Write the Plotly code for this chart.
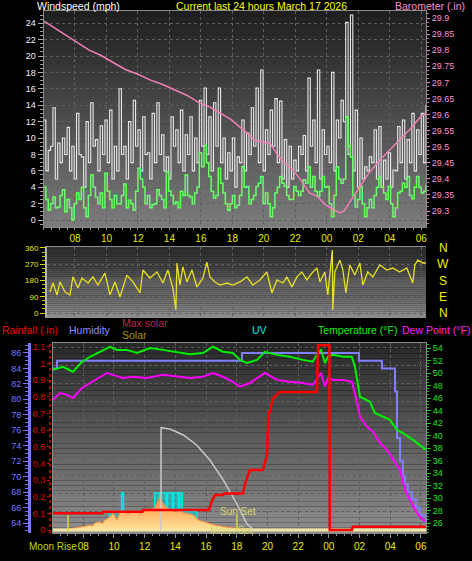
import plotly.graph_objects as go

W, H = 472, 561

# ---------------- data ----------------
hour_tickvals = [2, 4, 6, 8, 10, 12, 14, 16, 18, 20, 22, 24]
hour_ticktext = ['08', '10', '12', '14', '16', '18', '20', '22', '00', '02', '04', '06']
wind_sample_hours = 0.15

gust_peaks = [12.2, 8.5, 13.7, 9.4, 10, 11.3, 9, 13, 7.7, 12, 14.3, 9.8, 11.5, 12.2, 13.4, 9, 16, 9, 12, 14.6,
              11, 12.6, 8.2, 13, 14.3, 10.4, 7.7, 12.6, 11, 13.4, 10.4, 12.6, 10, 14.6, 16.1, 12.6, 14.3, 16.1, 10, 8.2,
              10, 7.7, 12.2, 10.6, 13.7, 16.1, 18.3, 11, 13.4, 14.8, 14.5, 9.8, 9, 7.3, 9, 10.3, 17.3, 12.2, 18.3, 11,
              9, 18, 12.2, 14.6, 24.1, 25, 13.4, 10, 6.5, 7.7, 11, 11.4, 7.3, 8.2, 6.1, 11.4, 12.2, 9.8, 13, 11,
              13, 14]
gust_lulls = [6, 9, 5, 7, 8, 6, 5, 8, 4, 7, 9, 6, 8, 7, 5, 6, 8, 5, 7, 9,
              6, 8, 5, 7, 8, 6, 5, 9, 7, 6, 8, 6, 7, 9, 8, 6, 9, 7, 5, 6,
              4, 7, 6, 8, 9, 7, 6, 8, 9, 7, 5, 4, 5, 6, 8, 6, 9, 7, 5, 8,
              7, 6, 10, 12, 8, 6, 4, 5, 6, 7, 5, 4, 5, 4, 6, 7, 5, 7, 6, 8, 7]
avg_peaks = [4.0, 1.2, 2.8, 1.6, 3.7, 2.5, 0, 3.3, 4.0, 0.4, 5.5, 2.8, 3.3, 5.7, 2.5, 3.0, 2.0, 4.4, 2.4, 1.2,
             6.3, 4.0, 3.0, 1.9, 3.7, 2.5, 5.9, 3.0, 2.2, 3.5, 5.5, 2.8, 3.3, 8.2, 9.1, 5.3, 2.7, 6.3, 3.3, 1.2,
             3.0, 1.8, 6.5, 4.1, 2.5, 4.1, 5.3, 3.3, 0.4, 3.3, 5.3, 4.1, 2.5, 4.1, 3.0, 4.9, 6.5, 5.3, 2.9, 5.3,
             4.1, 0.4, 6.5, 4.5, 12.6, 7.7, 1.6, 4.1, 0.4, 2.5, 3.0, 5.3, 3.3, 4.1, 0.4, 3.3, 4.5, 5.3, 2.6, 5.3,
             3.3, 4.3]
avg_lulls = [2.5, 2, 1.5, 3, 1, 1.5, 2, 2.5, 1.5, 3, 4, 2, 1.5, 3.5, 1.5, 2, 3, 1.5, 2, 3.5,
             5, 2, 1.5, 2, 3, 1.5, 3.5, 2, 1.5, 3, 3, 2, 4, 6.5, 7, 3.5, 3, 4.5, 2, 2,
             1.5, 3, 4, 2, 3, 4.5, 2, 2, 1.5, 4, 4.5, 3, 2.5, 3.5, 3.5, 4.5, 4, 3.5, 3.5, 4,
             2, 3, 5, 5, 9, 3, 2.5, 2, 1.5, 1.5, 4, 4, 2.5, 2, 1.5, 3.5, 4, 3, 4, 4, 3.5]

baro_hours = [0.03, 0.5, 1.05, 1.6, 2.3, 2.9, 3.6, 4.3, 5.2, 6.0, 6.8, 7.5, 8.35, 9.1, 9.9, 10.5, 11.2, 11.9,
              12.5, 13.0, 13.4, 13.9, 14.4, 14.8, 15.3, 15.8, 16.3, 16.9, 17.4, 17.9, 18.4, 18.8, 19.1, 19.5,
              20.1, 20.7, 21.4, 22.0, 22.6, 23.3, 23.9, 24.3]
baro_inhg = [29.89, 29.875, 29.86, 29.84, 29.82, 29.80, 29.785, 29.765, 29.74, 29.725, 29.707, 29.695, 29.676,
             29.66, 29.636, 29.625, 29.605, 29.585, 29.56, 29.54, 29.52, 29.515, 29.51, 29.48, 29.45, 29.43,
             29.40, 29.356, 29.345, 29.32, 29.305, 29.294, 29.30, 29.33, 29.375, 29.42, 29.46, 29.49, 29.52,
             29.555, 29.59, 29.605]
baro_tickvals = [29.3, 29.35, 29.4, 29.45, 29.5, 29.55, 29.6, 29.65, 29.7, 29.75, 29.8, 29.85, 29.9]
baro_ticktext = ['29.3', '29.35', '29.4', '29.45', '29.5', '29.55', '29.6', '29.65', '29.7', '29.75', '29.8',
                 '29.85', '29.9']

dir_hours = [0.41, 0.60, 0.86, 1.05, 1.37, 1.68, 1.87, 2.19, 2.44, 2.83, 3.14, 3.46, 3.90, 4.22, 4.54, 4.86,
             5.30, 5.68, 6.13, 6.32, 6.76, 7.21, 7.59, 7.90, 8.22, 8.41, 8.48, 8.67, 8.86, 9.11, 9.43, 9.75,
             10.13, 10.38, 10.57, 10.89, 11.21, 11.65, 12.03, 12.48, 12.92, 13.30, 13.75, 14.19, 14.51, 14.83,
             15.21, 15.46, 15.78, 16.10, 16.41, 16.73, 17.05, 17.37, 17.56, 17.87, 18.06, 18.25, 18.35, 18.38,
             18.51, 18.83, 19.02, 19.21, 19.46, 19.78, 20.10, 20.29, 20.60, 20.92, 21.37, 21.81, 22.19, 22.63,
             23.08, 23.46, 23.59, 23.78, 24.10, 24.35]
dir_deg = [116, 166, 100, 172, 116, 100, 200, 138, 194, 166, 200, 155, 221, 100, 172, 89,
           210, 172, 111, 238, 194, 227, 166, 238, 138, 17, 277, 155, 255, 172, 238, 144,
           194, 282, 200, 172, 155, 166, 155, 172, 200, 155, 183, 227, 111, 183,
           166, 200, 144, 200, 227, 183, 221, 249, 172, 227, 100, 255, 349, 17,
           227, 293, 238, 111, 266, 210, 277, 155, 227, 200, 266, 238, 249, 227,
           249, 166, 266, 293, 277, 277]
compass_labels = ['N', 'W', 'S', 'E', 'N']
compass_deg = [360, 270, 180, 90, 0]

temp_hours = [0.03, 0.68, 1.33, 1.92, 2.44, 3.09, 3.74, 4.20, 4.85, 5.50, 6.35, 7.19, 8.10, 8.95, 9.80, 10.45,
              11.10, 11.75, 12.21, 12.66, 13.32, 13.84, 14.62, 15.47, 16.31, 16.96, 17.29, 17.49, 17.75, 17.94,
              18.27, 18.92, 19.50, 19.70, 20.03, 20.68, 21.00, 21.52, 21.98, 22.44, 22.83, 23.48, 24.13, 24.33]
temp_f = [50.5, 51.0, 50.2, 51.8, 52.6, 53.4, 54.2, 53.7, 53.7, 53.2, 54.0, 53.7, 53.4, 53.0, 53.2, 54.2,
          53.4, 53.2, 52.1, 51.6, 52.1, 53.4, 52.9, 52.6, 52.1, 51.8, 53.2, 53.7, 51.6, 52.6,
          52.9, 52.6, 52.6, 51.0, 46.2, 45.4, 43.6, 43.0, 42.5, 40.9, 40.4, 39.3, 38.0, 37.7]

dew_hours = [0.03, 0.49, 0.94, 1.33, 1.92, 2.63, 3.54, 3.93, 4.59, 5.24, 6.15, 7.19, 8.10, 8.95, 9.80, 10.45,
             11.10, 11.75, 12.21, 12.86, 13.84, 14.62, 15.47, 16.31, 16.96, 17.29, 17.49, 17.75, 17.94, 18.27,
             18.92, 19.50, 19.70, 20.03, 20.49, 20.88, 21.33, 21.79, 22.64, 22.96, 23.28, 23.61, 23.93, 24.26]
dew_f = [45.7, 46.8, 46.5, 46.0, 47.6, 48.6, 50.0, 49.7, 49.2, 49.4, 49.2, 49.7, 49.4, 49.2, 49.4, 50.0,
         49.4, 48.6, 47.8, 48.4, 50.0, 48.9, 48.6, 48.4, 48.1, 49.4, 50.0, 47.8, 49.2, 48.9,
         48.9, 48.6, 46.8, 43.0, 41.4, 40.6, 38.8, 37.7, 34.5, 31.3, 29.7, 28.1, 27.0, 26.3]

hum_hours = [0.03, 0.29, 12.21, 12.34, 19.83, 19.96, 21.33, 21.46, 22.18, 22.31, 22.44, 22.64, 22.83, 22.96,
             23.15, 23.41, 23.67, 23.93, 24.33]
hum_pct = [84, 85, 85, 86, 86, 85, 85, 84, 84, 81, 75, 72, 70, 69, 68, 67, 66, 65, 64]

rain_hours = [0.03, 3.25, 3.30, 5.85, 5.90, 10.19, 10.40, 10.58, 11.10, 11.20, 12.40, 12.55, 12.86, 13.71,
              13.85, 13.97, 14.05, 14.36, 14.81, 17.22, 17.30, 18.04, 18.06, 19.50, 19.57, 24.33]
rain_in = [0.10, 0.10, 0.11, 0.11, 0.12, 0.12, 0.18, 0.21, 0.21, 0.22, 0.22, 0.28, 0.36, 0.36,
           0.41, 0.45, 0.68, 0.79, 0.83, 0.83, 1.11, 1.11, 0.0, 0.0, 0.02, 0.02]
rain_tickvals = [0, 0.1, 0.2, 0.3, 0.4, 0.5, 0.6, 0.7, 0.8, 0.9, 1.0, 1.1]
rain_ticktext = ['0', '0.1', '0.2', '0.3', '0.4', '0.5', '0.6', '0.7', '0.8', '0.9', '1', '1.1']

solar_hours = [0.90, 0.94, 1.46, 1.98, 2.20, 2.44, 2.60, 2.76, 3.09, 3.25, 3.41, 3.74, 3.93, 4.05, 4.20,
               4.39, 4.72, 4.90, 5.04, 5.37, 5.69, 6.02, 6.35, 6.67, 6.87, 7.00, 7.13, 7.32, 7.65, 7.97,
               8.30, 8.63, 8.95, 9.28, 9.47, 9.93, 10.25, 10.58, 10.91, 11.23, 11.88, 12.53, 13.19]
solar_wm2 = [0, 10, 15, 23, 30, 38, 30, 54, 62, 50, 77, 100, 130, 110, 77,
             138, 146, 120, 130, 146, 123, 146, 154, 170, 230, 254, 215, 185, 154, 138,
             146, 130, 123, 108, 77, 62, 46, 38, 31, 23, 15, 8, 0]
maxsolar_hours = [7.06, 7.07, 7.65, 8.52, 9.39, 10.25, 11.12, 11.99, 12.64, 13.07]
maxsolar_wm2 = [0, 787, 777, 731, 654, 538, 385, 205, 51, 0]
uv_hours = [3.60, 3.70, 4.50, 4.62, 5.05, 5.25, 5.60, 5.75, 6.65, 6.95, 7.05, 7.40, 7.50, 7.80, 7.90,
            8.20, 8.30, 8.45, 9.42, 12.60]
uv_index = [0, 1, 2, 1, 0, 1, 0, 1, 2, 1, 2, 1, 2, 1, 2, 1, 2, 1, 0, 0]

moonrise_hour = 1.01
sunset_hour = 12.01

# ---------------- helpers ----------------
def px(x):
    return x / W


def py(y):
    return 1 - y / H


def interleave(a, b):
    out = []
    for i, v in enumerate(a):
        out.append(v)
        if i < len(b):
            out.append(b[i])
    return out


gust = interleave(gust_peaks, gust_lulls)
wind_avg = interleave(avg_peaks, avg_lulls)
wind_hours = [i * wind_sample_hours for i in range(len(gust))]

top_range = [0.0, 24.3]
bot_range = [0.03, 24.33]

fig = go.Figure()

# top panel
fig.add_trace(go.Scatter(x=wind_hours, y=gust, mode='lines', xaxis='x', yaxis='y',
                         line=dict(color='#e8e8e8', width=1.1, shape='hv'), hoverinfo='skip'))
fig.add_trace(go.Scatter(x=wind_hours, y=wind_avg, mode='lines', xaxis='x', yaxis='y',
                         line=dict(color='#66ff66', width=1.5, shape='hv'), hoverinfo='skip'))
fig.add_trace(go.Scatter(x=baro_hours, y=baro_inhg, mode='lines', xaxis='x', yaxis='y2',
                         line=dict(color='#f07fb8', width=1.5), hoverinfo='skip'))
# middle panel
fig.add_trace(go.Scatter(x=dir_hours, y=dir_deg, mode='lines', xaxis='x2', yaxis='y3',
                         line=dict(color='#e8e020', width=1.3), hoverinfo='skip'))
# bottom panel (UV base axis first, solar above it)
fig.add_trace(go.Scatter(x=uv_hours, y=uv_index, mode='lines', xaxis='x3', yaxis='y4',
                         fill='tozeroy', fillcolor='rgba(0,215,215,0.45)',
                         line=dict(color='#00e8e8', width=1.5, shape='hv'), hoverinfo='skip'))
fig.add_trace(go.Scatter(x=solar_hours, y=solar_wm2, mode='lines', xaxis='x3', yaxis='y5',
                         fill='tozeroy',
                         fillgradient=dict(type='vertical', colorscale=[[0, '#ffe49a'], [1, '#ff8a3c']]),
                         line=dict(color='#ff9040', width=1), hoverinfo='skip'))
fig.add_trace(go.Scatter(x=[bot_range[0], bot_range[1]], y=[0, 0], mode='lines', xaxis='x3', yaxis='y5',
                         line=dict(color='#f4e4a4', width=3), hoverinfo='skip'))
fig.add_trace(go.Scatter(x=maxsolar_hours, y=maxsolar_wm2, mode='lines', xaxis='x3', yaxis='y5',
                         line=dict(color='#c8c8c8', width=1.5), hoverinfo='skip'))
fig.add_trace(go.Scatter(x=hum_hours, y=hum_pct, mode='lines', xaxis='x3', yaxis='y6',
                         line=dict(color='#8080ff', width=2, shape='hv'), hoverinfo='skip'))
fig.add_trace(go.Scatter(x=temp_hours, y=temp_f, mode='lines', xaxis='x3', yaxis='y7',
                         line=dict(color='#00f000', width=2), hoverinfo='skip'))
fig.add_trace(go.Scatter(x=dew_hours, y=dew_f, mode='lines', xaxis='x3', yaxis='y7',
                         line=dict(color='#ff00ff', width=2), hoverinfo='skip'))
fig.add_trace(go.Scatter(x=rain_hours, y=rain_in, mode='lines', xaxis='x3', yaxis='y8',
                         line=dict(color='#ff0000', width=2.5), hoverinfo='skip'))

GRID = '#5e5e5e'
FRAME = '#8c8c8c'
FONT = 'Liberation Sans'


def xcommon(domain, rng, anchor, labels, ticklen):
    return dict(domain=domain, range=rng, anchor=anchor, tickvals=hour_tickvals, ticktext=hour_ticktext,
                showticklabels=labels, tickfont=dict(color='#e8e800', size=10, family=FONT),
                ticks='outside' if labels else '', ticklen=ticklen, tickcolor='#909090',
                showgrid=True, gridcolor=GRID, griddash='dot', gridwidth=1,
                showline=True, linecolor=FRAME, mirror=True, zeroline=False, fixedrange=True,
                minor=dict(ticks='outside' if labels else '', ticklen=2, dtick=0.5, tick0=0,
                           tickcolor='#909090', showgrid=False))


top_dom = [(H - 227) / H, (H - 11) / H]
mid_dom = [(H - 317) / H, (H - 247) / H]
bot_dom = [(H - 533) / H, (H - 343) / H]

# bottom-panel gridlines: 10 equal divisions, expressed on the UV base axis
uv_px = 18.5
bot_grid = [k * 18.3 / uv_px for k in range(11)]
solar_px = 0.13

fig.update_layout(
    width=W, height=H, template='none',
    margin=dict(l=0, r=0, t=0, b=0),
    paper_bgcolor='black', plot_bgcolor='black', showlegend=False,
    font=dict(family=FONT, size=10, color='white'),
    xaxis=xcommon([43.5 / W, 426 / W], top_range, 'y', True, 2),
    xaxis2=xcommon([47 / W, 426 / W], [(47 - 43.5) / 15.75, 24.3], 'y3', False, 0),
    xaxis3=xcommon([53 / W, 426 / W], bot_range, 'y4', True, 4),
    yaxis=dict(domain=top_dom, range=[-0.85, 25.49], anchor='x', tickvals=list(range(0, 25, 2)),
               tickfont=dict(color='#f0f0ff', size=9, family=FONT), ticks='outside', ticklen=5,
               tickcolor='#b0b0b0', showgrid=True, gridcolor=GRID, griddash='dot', showline=True,
               linecolor=FRAME, zeroline=False, fixedrange=True,
               minor=dict(ticks='outside', ticklen=3, dtick=0.5, tick0=0, tickcolor='#a0a0a0', showgrid=False)),
    yaxis2=dict(overlaying='y', side='right', anchor='x', range=[29.2503, 29.9218],
                tickvals=baro_tickvals, ticktext=baro_ticktext,
                tickfont=dict(color='#ff8fcf', size=9, family=FONT), ticks='outside', ticklen=3,
                tickcolor='#ff8fcf', showgrid=False, showline=True, linecolor=FRAME, zeroline=False,
                fixedrange=True,
                minor=dict(ticks='outside', ticklen=2, dtick=0.0125, tick0=29.3, tickcolor='#d070a0')),
    yaxis3=dict(domain=mid_dom, range=[-22.15, 365.5], anchor='x2', tickvals=[0, 90, 180, 270, 360],
                tickfont=dict(color='#e8e800', size=8, family=FONT), ticks='outside', ticklen=5,
                tickcolor='#d8d800', showgrid=True, gridcolor=GRID, griddash='dot', showline=True,
                linecolor='#b4b4b4', linewidth=2, zeroline=False, fixedrange=True,
                minor=dict(ticks='outside', ticklen=3, dtick=22.5, tick0=0, tickcolor='#c8c800')),
    yaxis4=dict(domain=bot_dom, range=[-3 / uv_px, 187 / uv_px], anchor='x3',
                tickvals=bot_grid, showticklabels=False, ticks='', showgrid=True, gridcolor=GRID,
                griddash='dot', showline=True, linecolor=FRAME, mirror=True, zeroline=False, fixedrange=True),
    yaxis5=dict(overlaying='y4', range=[-3 / solar_px, 187 / solar_px], visible=False, fixedrange=True),
    yaxis6=dict(overlaying='y4', anchor='free', position=29 / W, side='left', range=[62.706, 87.29],
                tickvals=list(range(64, 87, 2)), tickfont=dict(color='#7878ff', size=9, family=FONT),
                ticks='outside', ticklen=5, tickcolor='#7878ff', showgrid=False, showline=True,
                linecolor='#7878ff', linewidth=3, zeroline=False, fixedrange=True,
                minor=dict(ticks='outside', ticklen=3, dtick=0.5, tick0=64, tickcolor='#7070f0')),
    yaxis7=dict(overlaying='y4', side='right', anchor='x3', range=[24.4, 54.8],
                tickvals=list(range(26, 55, 2)), tickfont=dict(color='#20e020', size=9, family=FONT),
                ticks='outside', ticklen=4, tickcolor='#20d020', showgrid=False, showline=False,
                zeroline=False, fixedrange=True,
                minor=dict(ticks='outside', ticklen=2, dtick=0.5, tick0=26, tickcolor='#20b020')),
    yaxis8=dict(overlaying='y4', anchor='free', position=50 / W, side='left', range=[-0.018, 1.1238],
                tickvals=rain_tickvals, ticktext=rain_ticktext,
                tickfont=dict(color='#e00000', size=9, family=FONT), ticks='outside', ticklen=3,
                tickcolor='#e00000', showgrid=False, showline=False, zeroline=False, fixedrange=True),
)

# gradient backgrounds
shapes = []


def gradient(xref, yref, top_rgb, bot_rgb, n=36):
    for k in range(n):
        t = (k + 0.5) / n
        c = [int(round(bot_rgb[i] + (top_rgb[i] - bot_rgb[i]) * t)) for i in range(3)]
        shapes.append(dict(type='rect', xref=xref + ' domain', yref=yref + ' domain', x0=0, x1=1,
                           y0=k / n, y1=(k + 1) / n, fillcolor='rgb(%d,%d,%d)' % tuple(c),
                           line=dict(width=0), layer='below'))


gradient('x', 'y', (30, 30, 30), (124, 124, 124))
gradient('x2', 'y3', (42, 42, 42), (140, 140, 140))
gradient('x3', 'y4', (40, 40, 40), (142, 142, 142))

# dotted rain axis line
shapes.append(dict(type='line', xref='paper', yref='paper', x0=px(50), x1=px(50), y0=bot_dom[0], y1=bot_dom[1],
                   line=dict(color='#e00000', width=1.5, dash='dot')))
# moon rise / sun set markers
for hr in (moonrise_hour, sunset_hour):
    shapes.append(dict(type='line', xref='x3', yref='paper', x0=hr, x1=hr, y0=py(532), y1=py(515),
                       line=dict(color='#d8d840', width=1.5)))
fig.update_layout(shapes=shapes)

ann = []


def text(s, x, y, color, size=10.5, xanchor='left'):
    ann.append(dict(text=s, x=px(x), y=py(y), xref='paper', yref='paper', showarrow=False,
                    xanchor=xanchor, yanchor='middle', font=dict(color=color, size=size, family=FONT)))


text('Windspeed (mph)', 35, 6, '#ffffff')
text('Current last 24 hours March 17 2026', 261, 6, '#ffff00', xanchor='center')
text('Barometer (.in)', 467, 6, '#ff8fc8', xanchor='right')
text('Rainfall (.in)', 0, 330, '#ff0000')
text('Humidity', 67, 330, '#8c8cff')
text('Max solar', 120, 323, '#c0204a')
text('Solar', 120, 335, '#a89400')
text('UV', 250, 330, '#00e8e8')
text('Temperature (°F)', 316, 330, '#10f010')
text('Dew Point (°F)', 400, 330, '#ff20ff')
for lab, deg in zip(compass_labels, compass_deg):
    yy = 313 - deg * 65 / 360
    text(lab, 443, yy, '#f0f000', size=12, xanchor='center')
text('Moon Rise', 79, 546, '#c8d800', size=10, xanchor='right')
text('Sun Set', 238, 511, '#d8d870', size=10, xanchor='center')
text('Moon Set', 231, 530, '#d8d870', size=10, xanchor='center')
fig.update_layout(annotations=ann)

fig.write_html('out.html', config={'displayModeBar': False},
               post_script="document.body.style.margin='0';document.body.style.background='black';")
